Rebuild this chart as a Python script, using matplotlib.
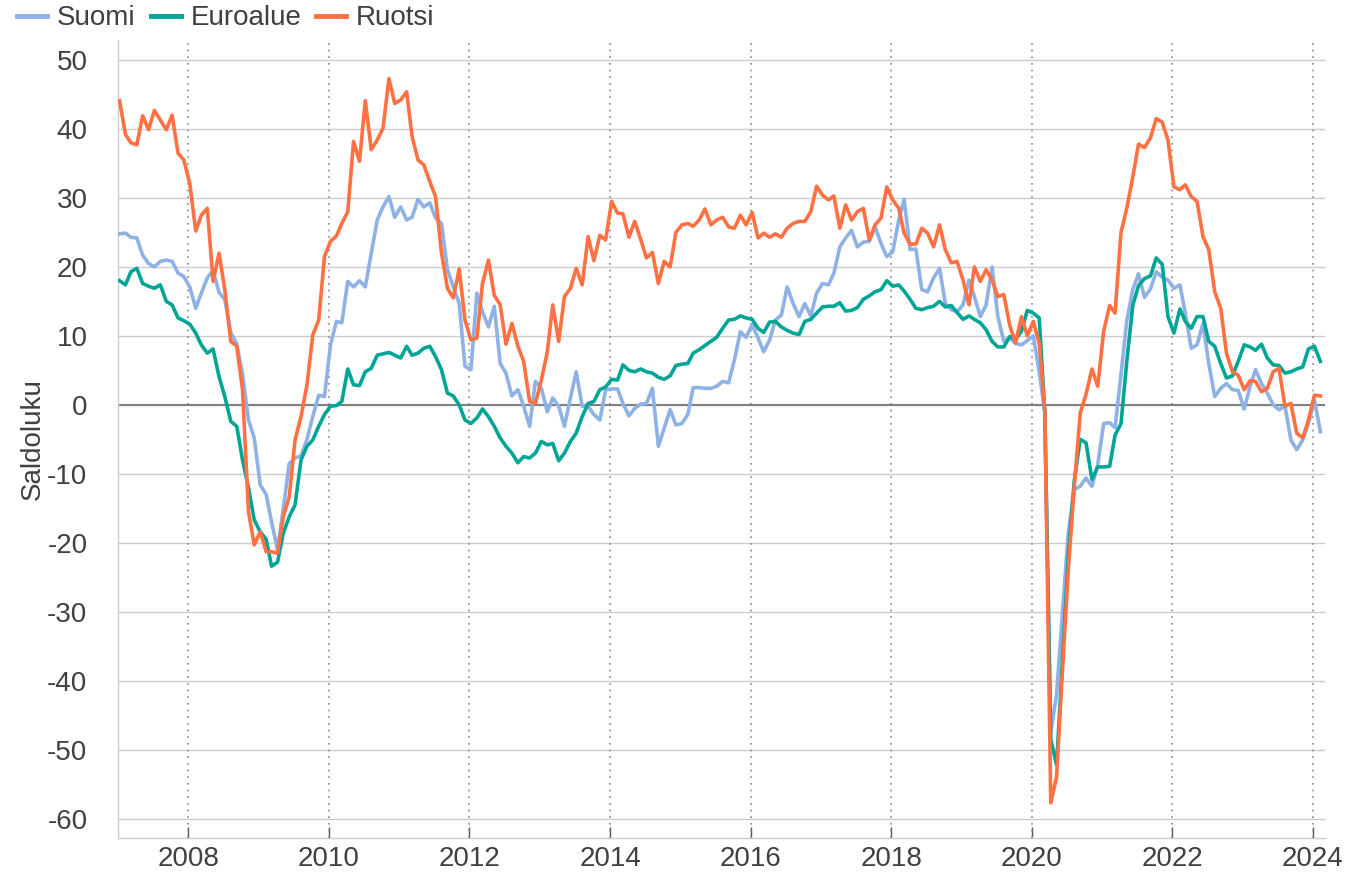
import pandas as pd
import matplotlib
import matplotlib.pyplot as plt
import matplotlib.dates as mdates

matplotlib.use("Agg")
plt.rcParams['font.family'] = ['Liberation Sans', 'DejaVu Sans']
plt.rcParams['axes.unicode_minus'] = False

# kuukausittaiset saldoluvut 2007/01 - 2024/02
suomi = [
    24.8, 24.9, 24.3, 24.2, 21.7, 20.5, 20.0, 20.8, 21.0, 20.8,
    19.1, 18.6, 17.1, 14.0, 16.2, 18.4, 19.5, 16.3, 15.3, 10.5,
    8.8, 4.5, -2.2, -4.8, -11.6, -13.0, -17.0, -21.0, -15.0, -8.5,
    -7.7, -7.4, -5.0, -1.7, 1.4, 1.2, 8.7, 12.1, 11.9, 17.9,
    17.1, 18.0, 17.1, 22.0, 26.8, 28.7, 30.2, 27.2, 28.7, 26.8,
    27.2, 29.8, 28.7, 29.3, 27.1, 26.3, 19.6, 17.1, 14.7, 5.6,
    5.1, 16.2, 13.5, 11.3, 14.3, 6.0, 4.6, 1.3, 2.2, -0.2,
    -3.1, 3.4, 2.4, -1.0, 1.0, -0.2, -3.1, 1.0, 4.8, -0.2,
    -0.2, -1.4, -2.2, 2.2, 2.3, 2.3, 0.2, -1.6, -0.5, 0.1,
    0.2, 2.4, -6.0, -3.4, -0.7, -2.9, -2.7, -1.4, 2.5, 2.5,
    2.4, 2.4, 2.7, 3.4, 3.2, 6.5, 10.6, 9.8, 11.6, 9.7,
    7.7, 9.4, 12.3, 13.0, 17.1, 14.7, 12.8, 14.7, 12.9, 16.2,
    17.6, 17.4, 19.1, 22.9, 24.2, 25.3, 22.9, 23.6, 23.7, 25.8,
    23.4, 21.5, 22.2, 26.8, 29.8, 22.5, 22.6, 16.7, 16.4, 18.4,
    19.8, 14.7, 13.8, 13.5, 14.5, 18.1, 15.7, 12.8, 14.5, 20.0,
    12.8, 9.2, 9.7, 8.9, 8.7, 9.3, 10.0, 4.8, -1.1, -47.5,
    -42.0, -30.0, -18.5, -12.3, -11.8, -10.6, -11.8, -8.7, -2.7, -2.6,
    -3.3, 4.4, 12.2, 16.7, 19.0, 15.6, 16.8, 19.3, 18.5, 18.1,
    16.9, 17.4, 13.3, 8.2, 8.7, 11.8, 6.0, 1.2, 2.4, 3.1,
    2.2, 2.1, -0.6, 2.7, 5.1, 3.1, 1.7, 0.0, -0.7, -0.2,
    -5.1, -6.5, -5.1, -2.7, 0.7, -3.9,
]

euroalue = [
    18.0, 17.4, 19.3, 19.8, 17.6, 17.2, 16.9, 17.4, 15.0, 14.5,
    12.6, 12.2, 11.7, 10.4, 8.7, 7.5, 8.1, 4.1, 1.2, -2.4,
    -3.1, -8.0, -12.0, -16.7, -18.4, -19.5, -23.4, -22.8, -18.6, -16.2,
    -14.5, -8.0, -6.0, -5.1, -3.1, -1.4, -0.2, -0.1, 0.5, 5.2,
    2.9, 2.8, 4.8, 5.3, 7.2, 7.4, 7.6, 7.2, 6.8, 8.5,
    7.2, 7.5, 8.2, 8.5, 7.0, 5.1, 1.7, 1.3, 0.0, -2.2,
    -2.7, -1.9, -0.6, -1.7, -3.1, -4.8, -6.0, -7.0, -8.4, -7.5,
    -7.7, -7.0, -5.3, -5.8, -5.6, -8.1, -7.0, -5.3, -4.1, -1.7,
    0.2, 0.5, 2.2, 2.6, 3.7, 3.6, 5.8, 5.0, 4.8, 5.2,
    4.8, 4.6, 4.0, 3.7, 4.2, 5.7, 5.9, 6.0, 7.5, 8.0,
    8.6, 9.2, 9.8, 11.1, 12.3, 12.4, 12.9, 12.6, 12.4, 11.1,
    10.5, 12.0, 12.1, 11.3, 10.8, 10.4, 10.2, 12.1, 12.4, 13.3,
    14.2, 14.3, 14.3, 14.8, 13.6, 13.7, 14.1, 15.3, 15.8, 16.4,
    16.7, 18.0, 17.2, 17.4, 16.5, 15.3, 14.0, 13.8, 14.1, 14.3,
    15.0, 14.2, 14.4, 13.4, 12.4, 12.9, 12.4, 11.9, 10.9, 9.2,
    8.4, 8.4, 9.9, 9.5, 10.7, 13.7, 13.3, 12.6, -1.1, -48.5,
    -52.2, -37.0, -22.0, -11.0, -5.0, -5.5, -10.8, -9.0, -9.0, -8.9,
    -4.4, -2.7, 6.3, 14.4, 17.3, 18.3, 18.7, 21.3, 20.4, 12.8,
    10.4, 13.9, 12.1, 11.1, 12.8, 12.8, 9.2, 8.5, 6.0, 3.9,
    4.2, 6.3, 8.7, 8.4, 7.9, 8.8, 6.8, 5.8, 5.7, 4.6,
    4.8, 5.2, 5.5, 8.1, 8.5, 6.3,
]

ruotsi = [
    44.1, 39.2, 38.0, 37.7, 41.9, 39.9, 42.7, 41.3, 39.9, 42.0,
    36.5, 35.5, 32.1, 25.2, 27.5, 28.5, 17.9, 22.0, 16.7, 9.2,
    8.5, 2.2, -15.5, -20.3, -18.4, -21.3, -21.3, -21.5, -16.2, -13.3,
    -5.1, -1.7, 2.9, 10.1, 12.3, 21.5, 23.7, 24.5, 26.3, 28.0,
    38.2, 35.3, 44.1, 37.0, 38.4, 40.1, 47.3, 43.7, 44.2, 45.4,
    38.9, 35.5, 34.8, 32.4, 30.2, 22.0, 16.9, 15.5, 19.7, 12.3,
    9.4, 9.7, 17.6, 21.0, 15.9, 14.5, 8.8, 11.8, 8.5, 6.3,
    0.5, 0.2, 3.6, 7.7, 14.5, 9.2, 15.7, 16.9, 19.8, 17.4,
    24.4, 20.9, 24.6, 23.9, 29.5, 27.8, 27.7, 24.3, 26.6, 24.0,
    21.3, 22.1, 17.6, 20.8, 20.0, 25.0, 26.1, 26.3, 25.9, 26.8,
    28.4, 26.1, 26.8, 27.2, 25.8, 25.6, 27.5, 26.1, 27.9, 24.2,
    24.9, 24.3, 24.8, 24.3, 25.6, 26.3, 26.6, 26.6, 28.0, 31.7,
    30.4, 29.7, 30.3, 25.6, 29.0, 26.8, 28.0, 28.5, 23.9, 26.1,
    27.1, 31.6, 29.7, 28.5, 24.9, 23.3, 23.3, 25.6, 24.9, 22.9,
    26.1, 22.5, 20.6, 20.8, 18.1, 14.5, 20.0, 17.9, 19.6, 18.1,
    15.7, 16.0, 11.5, 9.0, 12.8, 10.0, 12.1, 8.9, -0.7, -57.7,
    -54.0, -38.4, -24.0, -12.0, -1.2, 1.5, 5.2, 2.7, 10.7, 14.4,
    13.3, 25.0, 28.5, 33.0, 37.8, 37.3, 38.7, 41.5, 41.0, 38.4,
    31.6, 31.2, 31.9, 30.2, 29.5, 24.4, 22.5, 16.4, 14.0, 7.5,
    4.8, 4.3, 2.2, 3.5, 3.4, 1.9, 2.4, 4.8, 5.3, -0.2,
    0.2, -4.1, -4.8, -2.2, 1.4, 1.3,
]

dates = pd.date_range("2007-01-01", periods=len(suomi), freq="MS") + pd.Timedelta(days=8)
df = pd.DataFrame({"Suomi": suomi, "Euroalue": euroalue, "Ruotsi": ruotsi}, index=dates)

colors = {"Suomi": "#8eb1e6", "Euroalue": "#00a596", "Ruotsi": "#ff7043"}
text_col = "#404040"
fs = 20

fig = plt.figure(figsize=(13.49, 8.75), dpi=100)
ax = fig.add_axes([118 / 1349, 37 / 875, (1325 - 118) / 1349, (838 - 40) / 875])

for name in ["Suomi", "Euroalue", "Ruotsi"]:
    ax.plot(df.index, df[name], color=colors[name], lw=2.6, label=name,
            solid_joinstyle="round", zorder=3)

ax.set_xlim(pd.Timestamp("2007-01-01"), pd.Timestamp("2024-03-04"))
ax.set_ylim(-62.8, 52.9)
ax.set_yticks(range(-60, 51, 10))
ax.grid(axis="y", color="#cccccc", lw=1)
ax.axhline(0, color="#808080", lw=1.5, zorder=2)

years = [pd.Timestamp(f"{y}-01-01") for y in range(2008, 2025, 2)]
for d in years:
    ax.axvline(d, color="#888888", lw=1.2, ls=(0, (1, 3)), zorder=1)
ax.set_xticks(years)
ax.xaxis.set_major_formatter(mdates.DateFormatter("%Y"))

ax.tick_params(axis="x", direction="in", length=8, width=1, color="#555555",
               labelsize=fs, labelcolor=text_col, pad=6)
ax.tick_params(axis="y", length=0, labelsize=fs, labelcolor=text_col, pad=22)
ax.set_axisbelow(True)

for side in ["top", "right"]:
    ax.spines[side].set_visible(False)
for side in ["left", "bottom"]:
    ax.spines[side].set_color("#cccccc")
    ax.spines[side].set_linewidth(1)

ax.set_ylabel("Saldoluku", fontsize=fs, color=text_col, labelpad=1)

leg = fig.legend(loc="upper left", bbox_to_anchor=(0.0126, 0.994), ncol=3,
                 frameon=False, fontsize=fs, handlelength=1.08, borderpad=0,
                 handletextpad=0.35, columnspacing=0.55, borderaxespad=0)
for h in leg.get_lines():
    h.set_linewidth(3.5)
for t in leg.get_texts():
    t.set_color(text_col)

fig.savefig("out.png", dpi=100)
